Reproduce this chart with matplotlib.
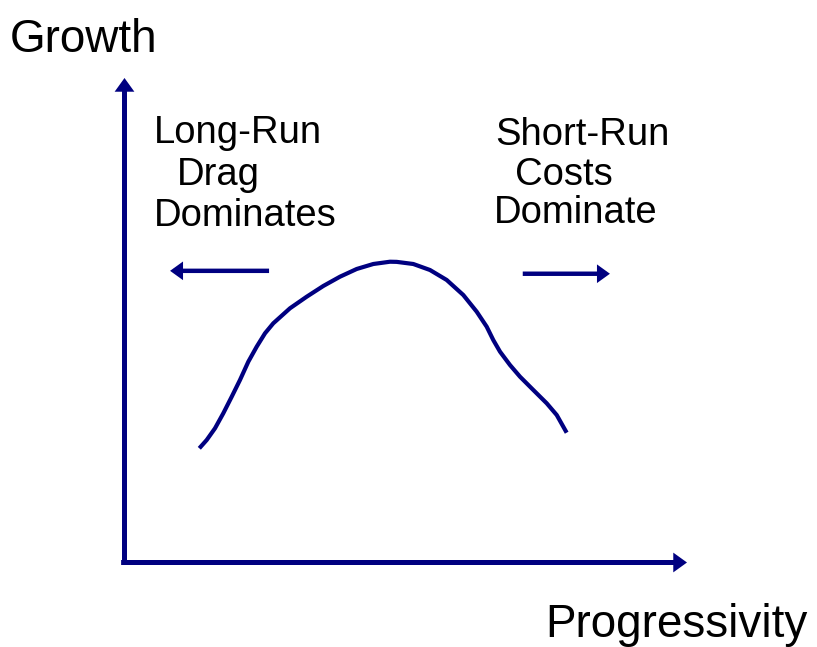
import matplotlib
matplotlib.use("Agg")
import matplotlib.pyplot as plt
from matplotlib import font_manager as fm

# ---- data (axis units: 0..100 along each arrow) ----
curve_x = [13.30, 14.61, 16.09, 17.56, 19.06, 20.53, 22.01, 23.50, 24.98, 26.45,
           29.42, 32.39, 35.34, 38.31, 41.28, 44.23, 47.20, 48.39, 51.34, 54.31,
           57.28, 60.23, 62.61, 64.39, 65.56, 66.76, 68.53, 70.31, 72.68, 75.06,
           76.84, 78.61]
curve_y = [23.57, 25.28, 27.70, 30.79, 34.22, 37.67, 41.44, 44.54, 47.31, 49.37,
           52.47, 54.86, 57.07, 58.99, 60.58, 61.61, 62.08, 62.05, 61.61, 60.37,
           58.31, 55.21, 51.77, 48.67, 45.92, 43.51, 40.76, 38.35, 35.60, 32.86,
           30.44, 26.79]
left_arrow = [(25.7, 60.2), (8.1, 60.2)]     # (tail, tip)
right_arrow = [(70.8, 59.6), (86.3, 59.6)]   # (tail, tip)
x_label = "Progressivity"
y_label = "Growth"
left_lines = ["Long-Run", "Drag", "Dominates"]
right_lines = ["Short-Run", "Costs", "Dominate"]

NAVY = "#000080"
W, H = 817, 647

def has_font(name):
    try:
        fm.findfont(fm.FontProperties(family=name), fallback_to_default=False)
        return True
    except Exception:
        return False

big_family = "Liberation Sans Narrow" if has_font("Liberation Sans Narrow") else "Liberation Sans"
big_size = 40 if big_family == "Liberation Sans Narrow" else 33
small_family = "Liberation Sans"

fig = plt.figure(figsize=(W / 100, H / 100), dpi=100)
# axes box: origin at pixel (124.5, 562.5), arrow tips at x=687, y=78
ox, oy, tx, ty = 124.5, 562.5, 687.0, 78.0
ax = fig.add_axes([ox / W, (H - oy) / H, (tx - ox) / W, (oy - ty) / H])
ax.set_xlim(0, 100)
ax.set_ylim(0, 100)
ax.axis("off")

def arrow(p0, p1, lw, hl, hw):
    ax.annotate("", xy=p1, xytext=p0, xycoords="data", textcoords="data",
                arrowprops=dict(arrowstyle=f"-|>,head_length={hl},head_width={hw}",
                                lw=lw, color=NAVY, shrinkA=0, shrinkB=0,
                                mutation_scale=20, joinstyle="miter",
                                capstyle="butt"),
                annotation_clip=False)

# axes arrows
arrow((0, -0.5), (0, 100), 3.6, 0.25, 0.18)
arrow((-0.6, 0), (100, 0), 3.6, 0.25, 0.18)

# curve
ax.plot(curve_x, curve_y, color=NAVY, lw=3.0, solid_joinstyle="round",
        solid_capstyle="butt", clip_on=False)

# small direction arrows
arrow(left_arrow[0], left_arrow[1], 3.2, 0.25, 0.18)
arrow(right_arrow[0], right_arrow[1], 3.2, 0.25, 0.18)

def ftext(px, py, s, family, size):
    fig.text(px / W, (H - py) / H, s, family=family, fontsize=size,
             color="black", ha="left", va="baseline")

ftext(10, 52, y_label, big_family, big_size)
ftext(545, 637, x_label, big_family, big_size)

small = 27.5
for (px, py), s in zip([(154, 142.5), (177, 185), (154, 226.5)], left_lines):
    ftext(px, py, s, small_family, small)
for (px, py), s in zip([(495, 145), (515, 185), (494, 223.5)], right_lines):
    ftext(px, py, s, small_family, small)

fig.savefig("out.png", dpi=100)
